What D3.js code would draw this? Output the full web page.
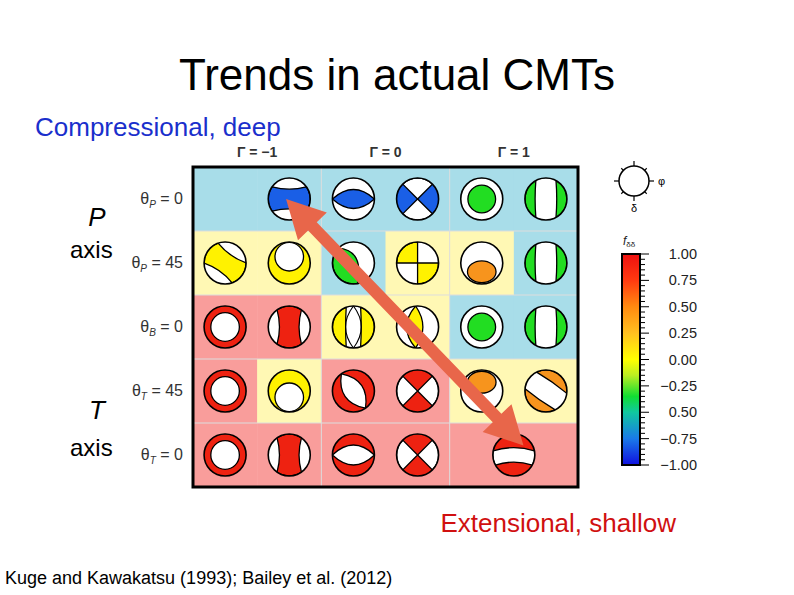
<!DOCTYPE html><html><head><meta charset="utf-8">
<script src="https://cdn.jsdelivr.net/npm/d3@7"></script>
<style>body{margin:0;background:#fff}text{font-family:"Liberation Sans",Arial,sans-serif}</style></head><body>
<svg id="c" width="794" height="595"></svg>
<script>
const gammaLabels=["Γ = −1","Γ = 0","Γ = 1"];
const rowLabels=[["θ","P"," = 0"],["θ","P"," = 45"],["θ","B"," = 0"],["θ","T"," = 45"],["θ","T"," = 0"]];
// background regime per half-column (6 columns) per row: b=blue y=yellow r=red
const bgRows=["bbbbbb","yybyyb","rryybb","ryrryy","rrrrrr"];
// mechanisms: [row, col(0-5, may be fractional), shape, colour key, rotation]
const balls=[
[0,1,"band","B",0],[0,2,"lens","B",0],[0,3,"x","B",0],[0,4,"dot","G",0],[0,5,"lunes","G",0],
[1,0,"band","Y",35],[1,1,"offdot","Y",-1],[1,2,"tilt","G",0],[1,3,"quad","Y",0],[1,4,"cap","O",1],[1,5,"lunes","G",0],
[2,0,"ring","R",0],[2,1,"band","R",90],[2,2,"lunesY","Y",0],[2,3,"vlens","Y",0],[2,4,"dot","G",0],[2,5,"lunes","G",0],
[3,0,"ring","R",0],[3,1,"offdot","Y",1],[3,2,"lensInv","R",55],[3,3,"x","R",90],[3,4,"cap","O",-1],[3,5,"lunes","O",-55],
[4,0,"ring","R",0],[4,1,"band","R",90],[4,2,"lensInv","R",0],[4,3,"x","R",90],[4,4.5,"bandInv","R",0]
];
const colors={B:"#1a5fe6",G:"#22dd22",Y:"#fff200",O:"#f7941d",R:"#ee2211"};
const bgColors={b:"#a8dde9",y:"#fff8b4",r:"#f99d9b"};
const cbTicks=[1,0.75,0.5,0.25,0,-0.25,-0.5,-0.75,-1];
const cbLabels=["1.00","0.75","0.50","0.25","0.00","−0.25","0.50","−0.75","−1.00"];
const cbStops=[[-1,"#1010e0"],[-0.75,"#1a7ae8"],[-0.5,"#10c8a0"],[-0.35,"#11dd33"],[-0.15,"#bbee22"],[0,"#ffff00"],[0.25,"#ffc020"],[0.5,"#ff8a10"],[0.75,"#ff3a10"],[1,"#ee1010"]];

const svg=d3.select("#c");
const defs=svg.append("defs");
const x=d3.scaleLinear().domain([0,6]).range([193,578]);
const y=d3.scaleLinear().domain([0,5]).range([167,487]);
const cw=x(1)-x(0), ch=y(1)-y(0), R=21;

svg.append("text").attr("x",397).attr("y",90).attr("text-anchor","middle").attr("font-size",44).text("Trends in actual CMTs");
svg.append("text").attr("x",35).attr("y",136).attr("font-size",26).attr("fill","#1a2fcc").text("Compressional, deep");
svg.append("text").attr("x",676).attr("y",532).attr("text-anchor","end").attr("font-size",26).attr("fill","#d01010").text("Extensional, shallow");
svg.append("text").attr("x",5).attr("y",584).attr("font-size",18).text("Kuge and Kawakatsu (1993); Bailey et al. (2012)");
gammaLabels.forEach((g,i)=>svg.append("text").attr("x",x(2*i+1)).attr("y",157).attr("text-anchor","middle").attr("font-size",14).attr("font-weight","bold").attr("fill","#333").text(g));
rowLabels.forEach((l,i)=>{const t=svg.append("text").attr("x",183).attr("y",y(i+0.5)+5).attr("text-anchor","end").attr("font-size",16).attr("fill","#333");
 t.append("tspan").text(l[0]);t.append("tspan").attr("font-size",10).attr("font-style","italic").attr("dy",4).text(l[1]);t.append("tspan").attr("dy",-4).text(l[2]);});
[["P",97,226],["T",97,419]].forEach(d=>svg.append("text").attr("x",d[1]).attr("y",d[2]).attr("text-anchor","middle").attr("font-size",26).attr("font-style","italic").text(d[0]));
[258,456].forEach(v=>svg.append("text").attr("x",70).attr("y",v).attr("font-size",24).text("axis"));

// backgrounds
bgRows.forEach((s,r)=>s.split("").forEach((k,c)=>svg.append("rect").attr("x",x(c)).attr("y",y(r)).attr("width",cw+0.5).attr("height",ch+0.5).attr("fill",bgColors[k])));
[2,4].forEach(c=>svg.append("line").attr("x1",x(c)).attr("x2",x(c)).attr("y1",y(0)).attr("y2",y(5)).attr("stroke","#ddd").attr("stroke-width",1));
[1,2,3,4].forEach(r=>svg.append("line").attr("x1",x(0)).attr("x2",x(6)).attr("y1",y(r)).attr("y2",y(r)).attr("stroke","#ddd").attr("stroke-width",1));
svg.append("rect").attr("x",x(0)).attr("y",y(0)).attr("width",x(6)-x(0)).attr("height",y(5)-y(0)).attr("fill","none").attr("stroke","#000").attr("stroke-width",3);
defs.append("clipPath").attr("id","ball").append("circle").attr("r",R);

function bandPath(r,a,bow){const c=r*Math.cos(a),s=r*Math.sin(a);
 return `M${-c},${-s}Q0,${-bow} ${c},${-s}A${r},${r} 0 0 1 ${c},${s}Q0,${bow} ${-c},${s}A${r},${r} 0 0 1 ${-c},${-s}Z`;}
function lunePath(r,a,bow){
 const c=r*Math.cos(a),s=r*Math.sin(a);
 return `M${-s},${-c}Q${-bow},0 ${-s},${c}A${r},${r} 0 0 1 ${-s},${-c}Z M${s},${-c}Q${bow},0 ${s},${c}A${r},${r} 0 0 0 ${s},${-c}Z`;}
const sw=1.6;
balls.forEach(([r,c,shape,ck,rot])=>{
 const g0=svg.append("g").attr("transform",`translate(${x(c+0.5)},${y(r+0.5)})`);
 const g=g0.append("g").attr("clip-path","url(#ball)").append("g").attr("transform",`rotate(${shape==="offdot"||shape==="cap"?0:rot})`);
 const col=colors[ck];
 const circ=(f)=>g.append("circle").attr("r",R).attr("fill",f).attr("stroke","none");
 const path=(d,f)=>g.append("path").attr("d",d).attr("fill",f).attr("stroke","#000").attr("stroke-width",1.3);
 if(shape==="ring"){circ(col);g.append("circle").attr("r",R*0.68).attr("fill","#fff").attr("stroke","#000").attr("stroke-width",1.3);}
 else if(shape==="dot"){circ("#fff");g.append("circle").attr("r",R*0.66).attr("fill",col).attr("stroke","#000").attr("stroke-width",1.3);}
 else if(shape==="band"){circ("#fff");path(bandPath(R,0.62,R*0.35),col);}
 else if(shape==="bandInv"){circ(col);path(`M${-R*0.98},${-R*0.2}Q0,${-R*0.5} ${R*0.98},${-R*0.2}A${R},${R} 0 0 1 ${R*0.88},${R*0.48}Q0,${R*0.2} ${-R*0.88},${R*0.48}A${R},${R} 0 0 1 ${-R*0.98},${-R*0.2}Z`,"#fff");}
 else if(shape==="lens"){circ("#fff");path(bandPath(R,0,R*0.9),col);}
 else if(shape==="lensInv"){circ(col);path(bandPath(R,0,R*0.95),"#fff");}
 else if(shape==="vlens"){circ("#fff");path(`M-2,${-R}Q${-R*0.95},0 -2,${R}Q${R*0.6},0 -2,${-R}Z`,col);}
 else if(shape==="lunes"){circ("#fff");path(lunePath(R,0.5,R*0.55),col);}
 else if(shape==="lunesY"){circ("#fff");path(lunePath(R,0.35,R*0.4),col);g.append("path").attr("d",`M0,${-R}Q${-R*0.75},0 0,${R}M0,${-R}Q${R*0.75},0 0,${R}`).attr("fill","none").attr("stroke","#000").attr("stroke-width",1.1);}
 else if(shape==="x"){circ(col);const a=R*0.707;
  path(`M${-a},${-a}L0,0L${a},${-a}A${R},${R} 0 0 0 ${-a},${-a}Z`,"#fff");
  path(`M${-a},${a}L0,0L${a},${a}A${R},${R} 0 0 1 ${-a},${a}Z`,"#fff");}
 else if(shape==="quad"){circ("#fff");path(`M0,0L0,${-R}A${R},${R} 0 0 0 ${-R},0Z`,col);path(`M0,0L0,${R}A${R},${R} 0 0 0 ${R},0Z`,col);}
 else if(shape==="offdot"){circ(col);g.append("circle").attr("cy",rot*R*0.3).attr("r",R*0.68).attr("fill","#fff").attr("stroke","#000").attr("stroke-width",1.3);}
 else if(shape==="cap"){circ("#fff");g.append("ellipse").attr("cy",rot*R*0.42).attr("rx",R*0.68).attr("ry",R*0.52).attr("fill",col).attr("stroke","#000").attr("stroke-width",1.3);}
 else if(shape==="tilt"){circ("#fff");path(`M${-R*0.7},${-R*0.71}Q${R*0.5},${-R*0.6} ${R*0.2},${R*0.98}A${R},${R} 0 0 1 ${-R*0.7},${-R*0.71}Z`,col);}
 g0.append("circle").attr("r",R).attr("fill","none").attr("stroke","#000").attr("stroke-width",sw);
});
// arrow
const ax1=x(1.45),ay1=y(0.5),ax2=x(5.15),ay2=y(4.35);
const ang=Math.atan2(ay2-ay1,ax2-ax1);
const arr=svg.append("g").attr("transform",`translate(${ax1},${ay1}) rotate(${ang*180/Math.PI})`);
const L=Math.hypot(ax2-ax1,ay2-ay1),hw=6,hl=38,hh=20;
arr.append("path").attr("d",`M0,0L${hl},${-hh}L${hl},${-hw}L${L-hl},${-hw}L${L-hl},${-hh}L${L},0L${L-hl},${hh}L${L-hl},${hw}L${hl},${hw}L${hl},${hh}Z`).attr("fill","#e8664a");

// colorbar
const cy=d3.scaleLinear().domain([1,-1]).range([254,465]);
const grad=defs.append("linearGradient").attr("id","gr").attr("x1",0).attr("x2",0).attr("y1",1).attr("y2",0);
cbStops.forEach(s=>grad.append("stop").attr("offset",(s[0]+1)/2).attr("stop-color",s[1]));
svg.append("rect").attr("x",622).attr("y",cy(1)).attr("width",18).attr("height",cy(-1)-cy(1)).attr("fill","url(#gr)").attr("stroke","#000").attr("stroke-width",2);
d3.range(-1,1.001,0.05).forEach(v=>svg.append("line").attr("x1",640).attr("x2",Math.abs(Math.round(v*100)%25)<1?649:645).attr("y1",cy(v)).attr("y2",cy(v)).attr("stroke","#000").attr("stroke-width",1));
cbTicks.forEach((v,i)=>svg.append("text").attr("x",697).attr("y",cy(v)+5).attr("text-anchor","end").attr("font-size",14.5).attr("fill","#222").text(cbLabels[i]));
const fl=svg.append("text").attr("x",623).attr("y",245).attr("font-size",12).attr("fill","#222");
fl.append("tspan").attr("font-style","italic").text("f");fl.append("tspan").attr("font-size",8).attr("dy",2).text("δδ");
const oc=svg.append("g").attr("transform","translate(634,181)");
oc.append("circle").attr("r",15).attr("fill","#fff").attr("stroke","#000").attr("stroke-width",1.5);
[0,45,90,135,180,225,270,315].forEach(a=>{const t=a*Math.PI/180,l=(a%90===0)?5:3;oc.append("line").attr("x1",15*Math.sin(t)).attr("y1",-15*Math.cos(t)).attr("x2",(15+l)*Math.sin(t)).attr("y2",-(15+l)*Math.cos(t)).attr("stroke","#000").attr("stroke-width",1.2);});
oc.append("text").attr("x",24).attr("y",4).attr("font-size",11).text("φ");
oc.append("text").attr("x",0).attr("y",31).attr("text-anchor","middle").attr("font-size",11).text("δ");
</script></body></html>
